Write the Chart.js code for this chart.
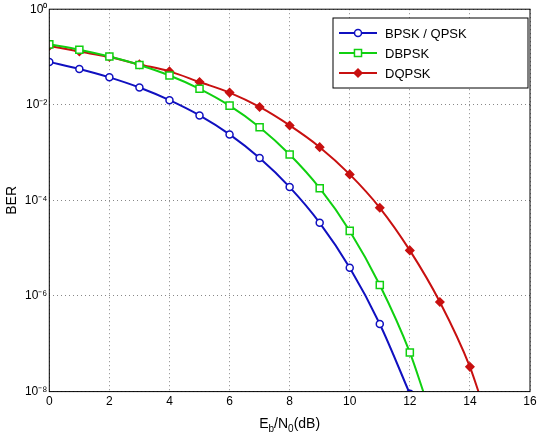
<!DOCTYPE html>
<html>
<head>
<meta charset="utf-8">
<script src="https://cdn.jsdelivr.net/npm/chart.js@4"></script>
<style>
  body { margin: 0; background: #fff; }
  #wrap { width: 540px; height: 436px; }
</style>
</head>
<body>
<div id="wrap"><canvas id="ber"></canvas></div>
<script>
// values
const ebno = [0, 1, 2, 3, 4, 5, 6, 7, 8, 9, 10, 11, 12, 13, 14];
const bpsk = [7.9e-2, 5.6e-2, 3.75e-2, 2.3e-2, 1.25e-2, 6.0e-3, 2.4e-3, 7.7e-4, 1.9e-4, 3.4e-5, 3.9e-6, 2.6e-7, 9e-9];
const dbpsk = [0.184, 0.142, 0.102, 0.068, 0.041, 0.0216, 0.0096, 0.0034, 9.1e-4, 1.8e-4, 2.3e-5, 1.7e-6, 6.6e-8];
const dqpsk = [0.17, 0.13, 0.1, 0.07, 0.05, 0.03, 0.018, 0.009, 0.0037, 0.0013, 3.5e-4, 7e-5, 9e-6, 7.5e-7, 3.3e-8];
// tails past the last marker, where the curves leave the plot
const dbpskTail = [12.5, 8e-9];
const dqpskTail = [14.4, 6e-9];
const yTicks = [1, 1e-2, 1e-4, 1e-6, 1e-8];
const yLabels = ['10\u2070', '10\u207B\u00B2', '10\u207B\u2074', '10\u207B\u2076', '10\u207B\u2078'];

function pts(ys, tail) {
  const p = ys.map((y, i) => ({ x: ebno[i], y: y }));
  if (tail) p.push({ x: tail[0], y: tail[1] });
  return p;
}
function radii(n, r0, tail) {
  const r = new Array(n).fill(r0);
  if (tail) r.push(0);
  return r;
}

const font = 'Liberation Sans, Arial, sans-serif';

const drawExtras = {
  id: 'extras',
  afterDraw(chart) {
    const ctx = chart.ctx;
    const a = chart.chartArea;
    ctx.save();
    // frame
    ctx.strokeStyle = '#000';
    ctx.lineWidth = 1;
    ctx.strokeRect(a.left, a.top, a.right - a.left, a.bottom - a.top);
    // x title with subscripts
    ctx.fillStyle = '#000';
    ctx.textBaseline = 'alphabetic';
    const parts = [['E', 14, 0], ['b', 10, 4], ['/N', 14, 0], ['0', 10, 4], ['(dB)', 14, 0]];
    let w = 0;
    parts.forEach(p => { ctx.font = p[1] + 'px ' + font; w += ctx.measureText(p[0]).width; });
    let x = (a.left + a.right) / 2 - w / 2;
    parts.forEach(p => {
      ctx.font = p[1] + 'px ' + font;
      ctx.fillText(p[0], x, 428 + p[2]);
      x += ctx.measureText(p[0]).width;
    });
    // legend
    const lx = 333, ly = 18, lw = 195, lh = 70;
    ctx.fillStyle = '#fff';
    ctx.fillRect(lx, ly, lw, lh);
    ctx.strokeRect(lx, ly, lw, lh);
    ctx.font = '13px ' + font;
    ctx.textBaseline = 'middle';
    chart.data.datasets.forEach((ds, i) => {
      const y = ly + 15 + i * 20;
      ctx.strokeStyle = ds.borderColor;
      ctx.lineWidth = 2;
      ctx.beginPath(); ctx.moveTo(lx + 6, y); ctx.lineTo(lx + 44, y); ctx.stroke();
      ctx.fillStyle = ds.pointBackgroundColor;
      ctx.lineWidth = 1.5;
      Chart.helpers.drawPoint(ctx, { pointStyle: ds.pointStyle, radius: ds.pointRadius[0], borderWidth: 1.5 }, lx + 25, y);
      ctx.fillStyle = '#000';
      ctx.fillText(ds.label, lx + 52, y + 1);
    });
    ctx.restore();
  }
};

new Chart(document.getElementById('ber'), {
  type: 'line',
  data: {
    datasets: [
      { label: 'BPSK / QPSK', data: pts(bpsk), borderColor: '#1010c0', pointBackgroundColor: '#ffffff',
        pointStyle: 'circle', pointRadius: radii(bpsk.length, 3.5) },
      { label: 'DBPSK', data: pts(dbpsk, dbpskTail), borderColor: '#10d010', pointBackgroundColor: '#ffffff',
        pointStyle: 'rect', pointRadius: radii(dbpsk.length, 5, dbpskTail) },
      { label: 'DQPSK', data: pts(dqpsk, dqpskTail), borderColor: '#c81010', pointBackgroundColor: '#c81010',
        pointStyle: 'rectRot', pointRadius: radii(dqpsk.length, 4, dqpskTail) }
    ].map(d => Object.assign(d, {
      borderWidth: 2, pointBorderColor: d.borderColor, pointBorderWidth: 1.5,
      cubicInterpolationMode: 'monotone', fill: false
    }))
  },
  options: {
    responsive: true,
    maintainAspectRatio: false,
    animation: false,
    layout: { padding: { left: 2, right: 10, top: 5, bottom: 24 } },
    plugins: { legend: { display: false }, tooltip: { enabled: false } },
    scales: {
      x: {
        type: 'linear', min: 0, max: 16,
        ticks: { stepSize: 2, color: '#000', font: { family: font, size: 12 }, maxRotation: 0 },
        grid: { color: '#555', lineWidth: 0.7, drawTicks: false },
        border: { dash: [1, 3], display: false }
      },
      y: {
        type: 'logarithmic', min: 1e-8, max: 1,
        afterBuildTicks(axis) { axis.ticks = yTicks.map(v => ({ value: v })); },
        ticks: {
          color: '#000', font: { family: font, size: 12 }, padding: 2,
          callback(v) { return yLabels[yTicks.indexOf(v)]; }
        },
        title: { display: true, text: 'BER', color: '#000', font: { family: font, size: 14 }, padding: 2 },
        grid: { color: '#555', lineWidth: 0.7, drawTicks: false },
        border: { dash: [1, 3], display: false }
      }
    }
  },
  plugins: [drawExtras]
});
</script>
</body>
</html>
